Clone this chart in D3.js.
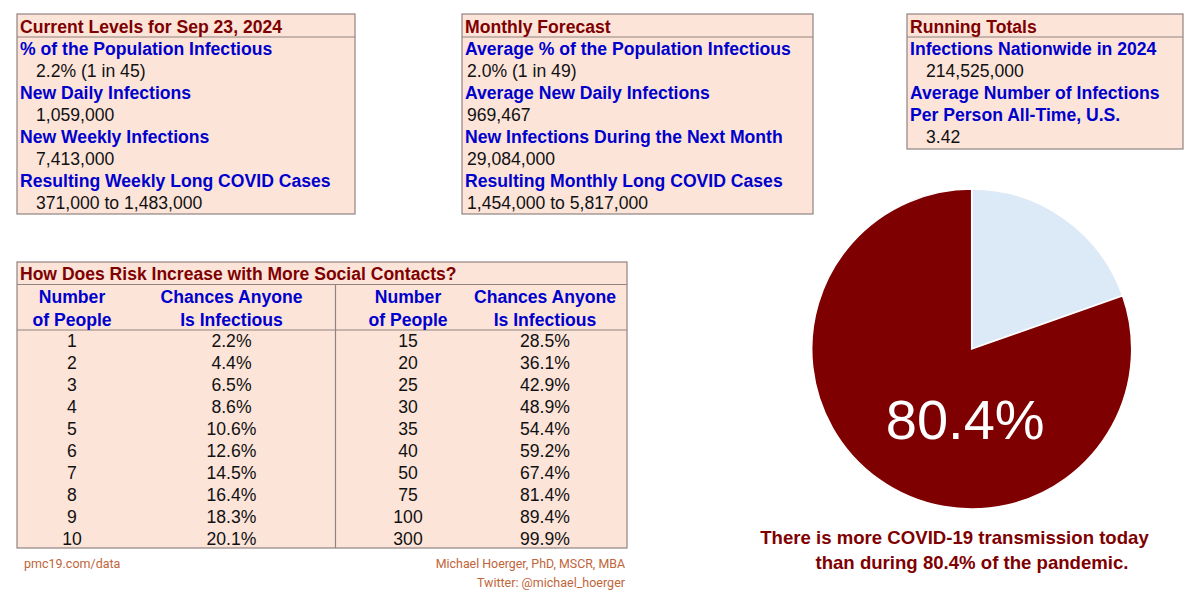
<!DOCTYPE html>
<html><head><meta charset="utf-8">
<script src="https://cdn.jsdelivr.net/npm/d3@7"></script>
<style>html,body{margin:0;padding:0;background:#fff;overflow:hidden}svg{display:block}text{font-family:"Liberation Sans",Arial,sans-serif}</style>
</head><body><svg id="c" width="1200" height="595"></svg>
<script>
const currentTitle = "Current Levels for Sep 23, 2024";
const currentRows = ["% of the Population Infectious","2.2% (1 in 45)","New Daily Infections","1,059,000","New Weekly Infections","7,413,000","Resulting Weekly Long COVID Cases","371,000 to 1,483,000"];
const forecastTitle = "Monthly Forecast";
const forecastRows = ["Average % of the Population Infectious","2.0% (1 in 49)","Average New Daily Infections","969,467","New Infections During the Next Month","29,084,000","Resulting Monthly Long COVID Cases","1,454,000 to 5,817,000"];
const totalsTitle = "Running Totals";
const totalsRows = ["Infections Nationwide in 2024","214,525,000","Average Number of Infections","Per Person All-Time, U.S.","3.42"];
const tableTitle = "How Does Risk Increase with More Social Contacts?";
const peopleA = [1,2,3,4,5,6,7,8,9,10];
const chanceA = ["2.2%","4.4%","6.5%","8.6%","10.6%","12.6%","14.5%","16.4%","18.3%","20.1%"];
const peopleB = [15,20,25,30,35,40,50,75,100,300];
const chanceB = ["28.5%","36.1%","42.9%","48.9%","54.4%","59.2%","67.4%","81.4%","89.4%","99.9%"];
const pieValues = [19.6,80.4];
const pieLabel = "80.4%";
const captionLines = ["There is more COVID-19 transmission today","than during 80.4% of the pandemic."];

const svg = d3.select("#c");
const BG="#fce4d9", BORDER="#8f8480", RED="#7f0000", BLUE="#0000cc", INK="#111";

function panel(x,y,w,h,headY){
  svg.append("rect").attr("x",x).attr("y",y).attr("width",w).attr("height",h).attr("fill",BG).attr("stroke",BORDER).attr("stroke-width",1.2);
  svg.append("line").attr("x1",x).attr("x2",x+w).attr("y1",headY).attr("y2",headY).attr("stroke",BORDER).attr("stroke-width",1.2);
}
function infoBox(x,w,h,title,rows,isValue,indent){
  panel(x,14,w,h,37);
  svg.append("text").attr("x",x+3).attr("y",33).attr("font-size",17.6).attr("font-weight","bold").attr("fill",RED).text(title);
  const yS=d3.scaleLinear().domain([0,1]).range([55,77]);
  svg.selectAll(null).data(rows).enter().append("text")
    .attr("x",(d,i)=>isValue(i)?x+indent:x+3).attr("y",(d,i)=>yS(i))
    .attr("font-size",17.6).attr("font-weight",(d,i)=>isValue(i)?"normal":"bold")
    .attr("fill",(d,i)=>isValue(i)?INK:BLUE).text(d=>d);
}
infoBox(17,338,200,currentTitle,currentRows,i=>i%2==1,19);
infoBox(462,351,200,forecastTitle,forecastRows,i=>i%2==1,5);
infoBox(907,276,135,totalsTitle,totalsRows,i=>i==1||i==4,19);

// table
panel(17,262,610,286,284.5);
svg.append("line").attr("x1",17).attr("x2",627).attr("y1",330).attr("y2",330).attr("stroke",BORDER).attr("stroke-width",1.2);
svg.append("line").attr("x1",335.5).attr("x2",335.5).attr("y1",284.5).attr("y2",548).attr("stroke",BORDER).attr("stroke-width",1.2);
svg.append("text").attr("x",20).attr("y",280).attr("font-size",17.55).attr("font-weight","bold").attr("fill",RED).text(tableTitle);
const cols=[72,231.5,408,545];
const heads=[["Number","of People"],["Chances Anyone","Is Infectious"],["Number","of People"],["Chances Anyone","Is Infectious"]];
heads.forEach((h,c)=>h.forEach((t,j)=>svg.append("text").attr("x",cols[c]).attr("y",303+j*22.5).attr("text-anchor","middle").attr("font-size",17.6).attr("font-weight","bold").attr("fill",BLUE).text(t)));
const rowY=d3.scaleLinear().domain([0,9]).range([347,544.5]);
[peopleA,chanceA,peopleB,chanceB].forEach((col,c)=>{
  svg.selectAll(null).data(col).enter().append("text")
    .attr("x",cols[c]).attr("y",(d,i)=>rowY(i)).attr("text-anchor","middle").attr("font-size",17.6).attr("fill",INK).text(d=>d);
});

// footer
const FOOT="#c0653a";
svg.append("text").attr("x",24).attr("y",568).attr("font-size",12.5).attr("fill",FOOT).style("font-family","Roboto").text("pmc19.com/data");
svg.append("text").attr("x",625).attr("y",568).attr("text-anchor","end").attr("font-size",12.4).attr("fill",FOOT).style("font-family","Roboto").text("Michael Hoerger, PhD, MSCR, MBA");
svg.append("text").attr("x",625).attr("y",587).attr("text-anchor","end").attr("font-size",12.5).attr("fill",FOOT).style("font-family","Roboto").text("Twitter: @michael_hoerger");

// pie
const pie=d3.pie().sort(null).value(d=>d);
const arc=d3.arc().innerRadius(0).outerRadius(160);
const g=svg.append("g").attr("transform","translate(971.7,349)");
const pieFill=d3.scaleOrdinal().domain([0,1]).range(["#dce9f6",RED]);
g.selectAll("path").data(pie(pieValues)).enter().append("path").attr("d",arc).attr("fill",(d,i)=>pieFill(i)).attr("stroke","#fff").attr("stroke-width",1.5);
g.append("text").attr("x",-6.5).attr("y",90).attr("text-anchor","middle").attr("font-size",56).attr("fill","#fff").text(pieLabel);
svg.append("text").attr("x",954.5).attr("y",544).attr("text-anchor","middle").attr("font-size",18.6).attr("font-weight","bold").attr("fill",RED).text(captionLines[0]);
svg.append("text").attr("x",972).attr("y",569).attr("text-anchor","middle").attr("font-size",18.6).attr("font-weight","bold").attr("fill",RED).text(captionLines[1]);
</script></body></html>
